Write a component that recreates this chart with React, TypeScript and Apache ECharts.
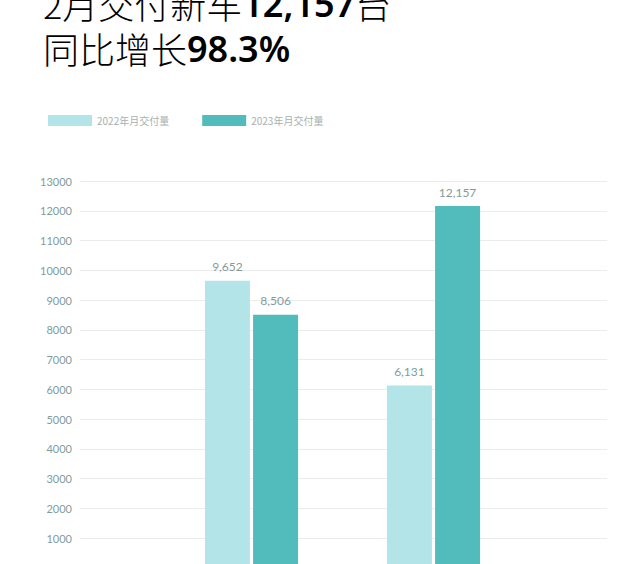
import React, { useEffect, useRef } from "react";
import * as echarts from "echarts";

const categories = ["1月", "2月"];
const seriesNames = ["2022年月交付量", "2023年月交付量"];
const values2022 = [9652, 6131];
const values2023 = [8506, 12157];
const titleLine1 = ["2月交付新车", "12,157", "台"];
const titleLine2 = ["同比增长", "98.3%"];

export default function App() {
  const ref = useRef<HTMLDivElement>(null);
  useEffect(() => {
    if (!ref.current) return;
    const chart = echarts.init(ref.current, null, { renderer: "svg" });
    const fmt = (p: any) => Number(p.value).toLocaleString("en-US");
    const labelStyle = {
      show: true,
      position: "top",
      distance: 8,
      color: "#7f9c9c",
      fontSize: 12,
      fontFamily: "Lato",
      formatter: fmt,
    };
    const rich = {
      a: { fontSize: 36, lineHeight: 36, fontFamily: "'Noto Sans CJK SC'", fontWeight: 300, color: "#2a2a2a" },
      b: { fontSize: 36, lineHeight: 36, fontFamily: "'Noto Sans', 'Noto Sans CJK SC'", fontWeight: 600, color: "#1e1e1e" },
    };
    chart.setOption({
      animation: false,
      backgroundColor: "#ffffff",
      textStyle: { fontFamily: "Lato, 'Noto Sans CJK SC'" },
      graphic: [
        {
          type: "text",
          left: 43,
          top: -15,
          style: {
            text: `{a|${titleLine1[0]}}{b|${titleLine1[1]}}{a|${titleLine1[2]}}`,
            rich,
          },
        },
        {
          type: "text",
          left: 43,
          top: 30,
          style: {
            text: `{a|${titleLine2[0]}}{b|${titleLine2[1]}}`,
            rich,
          },
        },
      ],
      legend: {
        left: 43,
        top: 110,
        itemWidth: 44,
        itemHeight: 11,
        itemGap: 33,
        icon: "rect",
        textStyle: { fontSize: 10, color: "#a8b0b0", fontFamily: "'Noto Sans CJK SC'", padding: [0, 0, 0, 0] },
        data: seriesNames,
      },
      grid: [
        { left: 80, right: 34, top: 181, bottom: -4, outerBoundsMode: "none", containLabel: false },
        { left: 160.5, right: 116.5, top: 181, bottom: -4, outerBoundsMode: "none", containLabel: false },
      ],
      xAxis: [
        { type: "category", gridIndex: 0, data: categories, show: false },
        {
          type: "category",
          gridIndex: 1,
          data: categories,
          axisLine: { show: false },
          axisTick: { show: false },
          axisLabel: { show: false },
        },
      ],
      yAxis: [
        {
          type: "value",
          gridIndex: 0,
          min: 0,
          max: 13000,
          interval: 1000,
          axisLine: { show: false },
          axisTick: { show: false },
          axisLabel: {
            color: "#7f9c9c",
            fontSize: 11,
            fontFamily: "Lato",
            margin: 8,
            formatter: (v: number) => String(v),
          },
          splitLine: { lineStyle: { color: "#ececec", width: 1 } },
        },
        { type: "value", gridIndex: 1, min: 0, max: 13000, show: false, splitLine: { show: false } },
      ],
      series: [
        {
          name: seriesNames[0],
          type: "bar",
          xAxisIndex: 1,
          yAxisIndex: 1,
          data: values2022,
          barWidth: 45,
          barGap: "7%",
          itemStyle: { color: "#b3e4e7" },
          label: labelStyle,
        },
        {
          name: seriesNames[1],
          type: "bar",
          xAxisIndex: 1,
          yAxisIndex: 1,
          data: values2023,
          barWidth: 45,
          itemStyle: { color: "#52bbbb" },
          label: labelStyle,
        },
      ],
    });
    return () => chart.dispose();
  }, []);
  return <div ref={ref} style={{ position: "absolute", left: 0, top: 0, width: 641, height: 564 }} />;
}
